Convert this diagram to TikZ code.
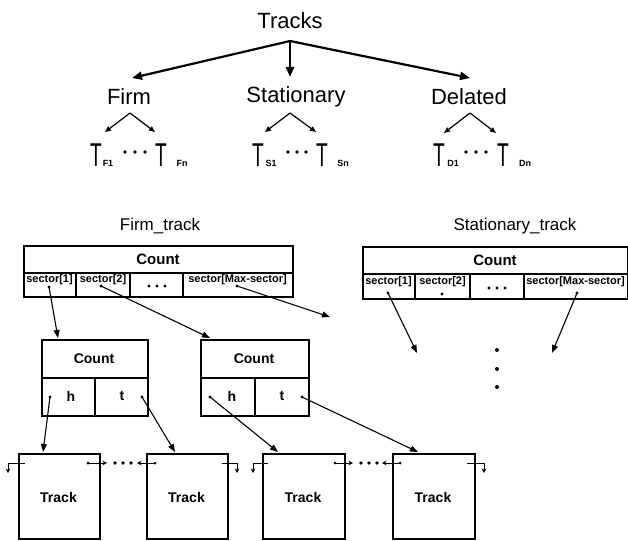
\documentclass[tikz,border=0pt]{standalone}
\usepackage{fontspec}
\setmainfont{Liberation Sans}
\usetikzlibrary{arrows.meta}
\begin{document}
\begin{tikzpicture}[x=1pt,y=-1pt,
  big/.style={font=\fontsize{22}{26}\selectfont, inner sep=0},
  tee/.style={font=\fontsize{33}{33}\selectfont, inner sep=0},
  subl/.style={font=\bfseries\fontsize{9}{10}\selectfont, inner sep=0},
  title/.style={font=\fontsize{17}{20}\selectfont, inner sep=0},
  cnt/.style={font=\bfseries\fontsize{15}{17}\selectfont, inner sep=0},
  lbl/.style={font=\bfseries\fontsize{14}{16}\selectfont, inner sep=0},
  sec/.style={font=\bfseries\fontsize{11}{12}\selectfont, inner sep=0},
  boxst/.style={draw, line width=1.6pt, inner sep=0, anchor=north west},
  divider/.style={line width=1.1pt},
  bigarrow/.style={line width=2.2pt, -{Triangle[length=10pt,width=8pt]}},
  smallarrow/.style={line width=1.2pt, -{Triangle[length=6pt,width=5pt]}},
  ptr/.style={line width=1.1pt, -{Triangle[length=8pt,width=6pt]}},
  lnk/.style={line width=1pt, -{Stealth[length=4.5pt,width=4.5pt]}},
  dotc/.style={circle, fill, inner sep=0, minimum size=3.4pt},
]
\useasboundingbox (0,0) rectangle (628,540);
\newcommand{\Tee}{\scalebox{0.58}[1]{T}}

% ---------- top tree ----------
\node[big] (tracks) at (290,21) {Tracks};
\node[big] (firm) at (129,97) {Firm};
\node[big] (stat) at (296,97) {Stationary};
\node[big] (del) at (469,97) {Delated};
\coordinate (troot) at (290,41);
\coordinate (tfirm) at (132,78);
\coordinate (tstat) at (290,77);
\coordinate (tdel) at (470,78);
\draw[bigarrow] (troot) -- (tfirm);
\draw[bigarrow] (troot) -- (tstat);
\draw[bigarrow] (troot) -- (tdel);

\coordinate (fa) at (130,113); \coordinate (fl) at (105,132); \coordinate (fr) at (155,132);
\coordinate (sa) at (290,113); \coordinate (sl) at (265,132); \coordinate (sr) at (316,132);
\coordinate (da) at (470,113); \coordinate (dl) at (444,133); \coordinate (dr) at (496,133);
\draw[smallarrow] (fa) -- (fl); \draw[smallarrow] (fa) -- (fr);
\draw[smallarrow] (sa) -- (sl); \draw[smallarrow] (sa) -- (sr);
\draw[smallarrow] (da) -- (dl); \draw[smallarrow] (da) -- (dr);

% T labels
\node[tee] (tf1) at (96,155) {\Tee};  \node[subl] (sf1) at (108,163) {F1};
\node[tee] (tf2) at (161,155) {\Tee}; \node[subl] (sf2) at (182,163) {Fn};
\node[tee] (ts1) at (258,155) {\Tee}; \node[subl] (ss1) at (271,163) {S1};
\node[tee] (ts2) at (322,155) {\Tee}; \node[subl] (ss2) at (343,163) {Sn};
\node[tee] (td1) at (439,155) {\Tee}; \node[subl] (sd1) at (453,163) {D1};
\node[tee] (td2) at (503,155) {\Tee}; \node[subl] (sd2) at (525,163) {Dn};
\foreach \x in {125,135,145, 288,297,306, 466,476,486}
  \fill (\x,152) circle (1.8);

% ---------- Firm_track ----------
\node[title] (ftitle) at (160,226) {Firm\_track};
\node[boxst, minimum width=269pt, minimum height=51pt] (fbox) at (23,245) {};
\draw[divider] (23,273) -- (292,273);
\draw[divider] (76,273) -- (76,296);
\draw[divider] (130,273) -- (130,296);
\draw[divider] (183,273) -- (183,296);
\node[cnt] (fcount) at (158,259) {Count};
\node[sec] (fs1) at (49.5,280) {sector[1]};
\node[sec] (fs2) at (103,280) {sector[2]};
\node[sec] (fsm) at (237.5,280) {sector[Max-sector]};
\foreach \x in {149,157,165} \fill (\x,286) circle (1.7);
\node[dotc] (fd1) at (49,287) {};
\node[dotc] (fd2) at (101,286) {};
\node[dotc] (fdm) at (237,286) {};

% ---------- Stationary_track ----------
\node[title] (stitle) at (515,226) {Stationary\_track};
\node[boxst, minimum width=265pt, minimum height=52pt] (sbox) at (362,246) {};
\draw[divider] (362,274) -- (627,274);
\draw[divider] (415,274) -- (415,298);
\draw[divider] (470,274) -- (470,298);
\draw[divider] (524,274) -- (524,298);
\node[cnt] (scount) at (495,260) {Count};
\node[sec] (ss1t) at (388.5,282) {sector[1]};
\node[sec] (ss2t) at (442.5,282) {sector[2]};
\node[sec] (ssmt) at (575.5,282) {sector[Max-sector]};
\foreach \x in {489,497,505} \fill (\x,288) circle (1.7);
\node[dotc] (sd1d) at (388,293) {};
\node[dotc] (sd2d) at (442,294) {};
\node[dotc] (sdmd) at (577,293) {};
\coordinate (se1) at (417,353);
\coordinate (se2) at (552,353);
\draw[ptr] (sd1d.center) -- (se1);
\draw[ptr] (sdmd.center) -- (se2);
\foreach \y in {350,369,387} \fill (497,\y) circle (2);

% ---------- list heads ----------
\node[boxst, minimum width=106pt, minimum height=76pt] (lh1) at (41,339) {};
\draw[divider] (41,378) -- (147,378);
\draw[divider] (95,378) -- (95,415);
\node[lbl] (c1) at (94,359) {Count};
\node[lbl] (h1) at (71,396) {h};
\node[lbl] (t1) at (122,396) {t};
\node[dotc] (h1d) at (50,397) {};
\node[dotc] (t1d) at (142,397) {};

\node[boxst, minimum width=108pt, minimum height=76pt] (lh2) at (200,339) {};
\draw[divider] (200,378) -- (308,378);
\draw[divider] (255,378) -- (255,415);
\node[lbl] (c2) at (254,359) {Count};
\node[lbl] (h2) at (232,396) {h};
\node[lbl] (t2) at (282,396) {t};
\node[dotc] (h2d) at (210,397) {};
\node[dotc] (t2d) at (302,397) {};

\coordinate (lh1top) at (58,338);
\coordinate (lh2top) at (210,338);
\coordinate (free1) at (330,317);
\draw[ptr] (fd1.center) -- (lh1top);
\draw[ptr] (fd2.center) -- (lh2top);
\draw[ptr] (fdm.center) -- (free1);

% ---------- track nodes ----------
\node[boxst, minimum width=81pt, minimum height=85pt] (ta) at (18,453) {};
\node[boxst, minimum width=81pt, minimum height=85pt] (tb) at (146,453) {};
\node[boxst, minimum width=82pt, minimum height=85pt] (tc) at (262,453) {};
\node[boxst, minimum width=82pt, minimum height=85pt] (td) at (392,453) {};
\node[lbl] (la) at (58.5,497) {Track};
\node[lbl] (lb) at (186.5,497) {Track};
\node[lbl] (lc) at (303,497) {Track};
\node[lbl] (ld) at (433,497) {Track};

\coordinate (tatop) at (43,452);
\coordinate (tbtop) at (175,452);
\coordinate (tctop) at (278,452);
\coordinate (tdtop) at (418,452);
\draw[ptr] (h1d.center) -- (tatop);
\draw[ptr] (t1d.center) -- (tbtop);
\draw[ptr] (h2d.center) -- (tctop);
\draw[ptr] (t2d.center) -- (tdtop);

% links between track nodes
\coordinate (ahs) at (25,463); \coordinate (ahc) at (8,463); \coordinate (ahe) at (8,473);
\draw[lnk] (ahs) -- (ahc) -- (ahe);
\node[dotc, minimum size=3pt] (ard) at (88,463) {};
\coordinate (are) at (107,463);
\draw[lnk] (ard.center) -- (are);
\foreach \x in {115,123,131} \fill (\x,463) circle (1.8);
\node[dotc, minimum size=3pt] (bld) at (155,463) {};
\coordinate (ble) at (137,463);
\draw[lnk] (bld.center) -- (ble);
\coordinate (bhs) at (222,463); \coordinate (bhc) at (237,463); \coordinate (bhe) at (237,473);
\draw[lnk] (bhs) -- (bhc) -- (bhe);

\coordinate (chs) at (268,463); \coordinate (chc) at (253,463); \coordinate (che) at (253,473);
\draw[lnk] (chs) -- (chc) -- (che);
\node[dotc, minimum size=3pt] (crd) at (335,463) {};
\coordinate (cre) at (353,463);
\draw[lnk] (crd.center) -- (cre);
\foreach \x in {361,369,377} \fill (\x,463) circle (1.8);
\node[dotc, minimum size=3pt] (dld) at (400,463) {};
\coordinate (dle) at (382,463);
\draw[lnk] (dld.center) -- (dle);
\coordinate (dhs) at (467,463); \coordinate (dhc) at (484,463); \coordinate (dhe) at (484,473);
\draw[lnk] (dhs) -- (dhc) -- (dhe);
\end{tikzpicture}
\end{document}
